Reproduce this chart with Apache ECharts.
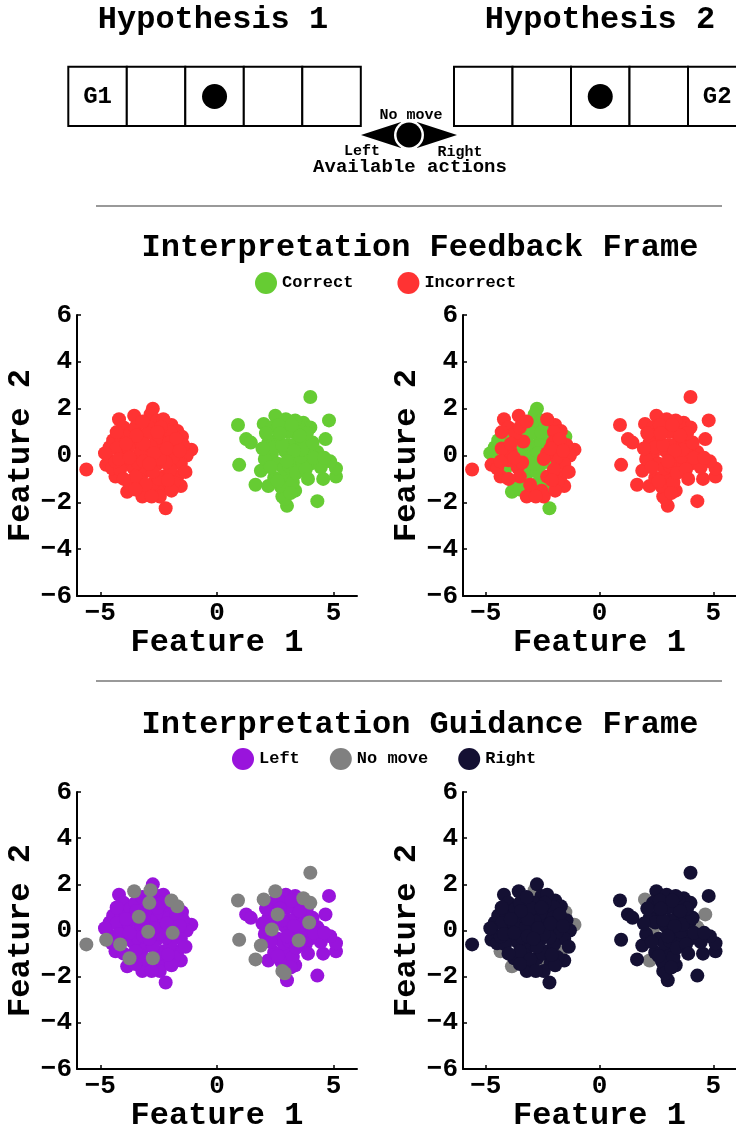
<!DOCTYPE html>
<html>
<head>
<meta charset="utf-8">
<title>Interpretation frames</title>
<script src="https://cdn.jsdelivr.net/npm/echarts@6/dist/echarts.min.js"></script>
<style>
  html, body { margin: 0; padding: 0; background: #fff; }
  #chart { width: 736px; height: 1133px; }
</style>
</head>
<body>
<div id="chart"></div>
<script>
const FONT = '"Liberation Mono", "Courier New", monospace'

// [feature 1, feature 2, feedback H1, feedback H2, action H1, action H2]
// C = correct, I = incorrect, L = left, N = no move, R = right
const leftCluster = [
  [-2.75, 2.0, 'I', 'C', 'L', 'R'], [-2.85, 1.75, 'I', 'C', 'N', 'N'], [-3.55, 1.7, 'I', 'I', 'N', 'R'],
  [-4.2, 1.55, 'I', 'I', 'L', 'R'], [-4.0, 1.2, 'I', 'I', 'L', 'R'], [-2.55, 1.5, 'I', 'C', 'L', 'R'],
  [-2.9, 1.2, 'I', 'C', 'N', 'R'], [-1.95, 1.3, 'I', 'I', 'N', 'R'], [-1.7, 1.05, 'I', 'I', 'N', 'R'],
  [-1.5, 0.8, 'I', 'C', 'L', 'N'], [-1.1, 0.25, 'I', 'I', 'L', 'N'], [-1.3, 0.0, 'I', 'I', 'L', 'R'],
  [-1.55, -0.35, 'I', 'I', 'L', 'R'], [-1.7, -0.9, 'I', 'I', 'L', 'N'], [-1.55, -1.3, 'I', 'I', 'L', 'R'],
  [-2.15, -1.4, 'I', 'C', 'L', 'R'], [-2.2, -2.25, 'I', 'C', 'L', 'R'], [-2.55, -1.5, 'I', 'I', 'L', 'N'],
  [-3.0, -1.55, 'I', 'I', 'L', 'N'], [-3.2, -1.75, 'I', 'I', 'L', 'R'], [-3.85, -1.55, 'I', 'C', 'L', 'N'],
  [-3.75, -1.2, 'I', 'C', 'N', 'R'], [-4.35, -0.9, 'I', 'I', 'L', 'N'], [-4.75, -0.4, 'I', 'I', 'N', 'R'],
  [-5.6, -0.6, 'I', 'I', 'N', 'R'], [-4.6, 0.35, 'I', 'C', 'L', 'R'], [-4.45, 0.65, 'I', 'C', 'L', 'R'],
  [-4.6, -0.2, 'I', 'C', 'L', 'R'], [-4.1, 0.7, 'I', 'C', 'L', 'R'], [-3.6, 0.55, 'I', 'C', 'L', 'R'],
  [-3.35, 0.6, 'I', 'I', 'N', 'R'], [-2.95, -0.05, 'I', 'C', 'N', 'R'], [-2.75, -1.2, 'I', 'C', 'N', 'R'],
  [-1.9, -0.1, 'I', 'I', 'N', 'R'], [-2.2, 0.9, 'I', 'C', 'L', 'R'], [-2.45, 0.4, 'I', 'C', 'L', 'R'],
  [-3.3, 0.1, 'I', 'C', 'L', 'R'], [-3.9, 0.15, 'I', 'I', 'L', 'R'], [-3.6, -0.5, 'I', 'I', 'L', 'R'],
  [-3.1, -0.7, 'I', 'C', 'L', 'R'], [-2.6, -0.4, 'I', 'C', 'L', 'R'], [-2.3, -0.9, 'I', 'I', 'L', 'R'],
  [-2.0, -0.6, 'I', 'I', 'L', 'R'], [-1.8, 0.35, 'I', 'I', 'L', 'N'], [-2.6, 0.75, 'I', 'C', 'L', 'R'],
  [-3.3, -1.05, 'I', 'C', 'L', 'R'], [-4.0, -0.2, 'I', 'I', 'L', 'R'], [-2.85, 0.4, 'I', 'C', 'L', 'R'],
  [-3.0, 0.95, 'I', 'C', 'L', 'R'], [-2.3, 0.1, 'I', 'I', 'L', 'R'], [-3.5, -0.9, 'I', 'I', 'L', 'R'],
  [-2.5, -1.0, 'I', 'C', 'L', 'R'], [-4.3, 0.3, 'I', 'I', 'L', 'R'], [-2.0, 1.0, 'I', 'I', 'L', 'R'],
  [-2.75, -0.7, 'I', 'C', 'L', 'R'], [-3.7, 0.95, 'I', 'I', 'L', 'R'], [-1.45, 0.45, 'I', 'I', 'L', 'R'],
  [-2.45, -1.75, 'I', 'I', 'L', 'R'], [-3.15, 0.5, 'I', 'C', 'L', 'R'], [-3.8, 0.35, 'I', 'C', 'L', 'R'],
  [-2.3, 1.55, 'I', 'I', 'L', 'R'], [-1.85, -1.15, 'I', 'I', 'L', 'R'], [-4.5, -0.55, 'I', 'I', 'L', 'R'],
  [-4.15, -0.6, 'I', 'C', 'N', 'R'], [-3.4, -0.3, 'I', 'I', 'L', 'R'], [-2.2, -0.3, 'I', 'C', 'L', 'R'],
  [-3.5, 1.2, 'I', 'I', 'L', 'R'], [-2.05, 0.55, 'I', 'I', 'L', 'R'], [-3.05, -1.25, 'I', 'I', 'L', 'R'],
  [-4.35, -0.25, 'I', 'I', 'L', 'R'], [-4.3, 1.0, 'I', 'I', 'L', 'R'], [-3.2, 1.45, 'I', 'I', 'L', 'R'],
  [-2.4, 1.2, 'I', 'C', 'L', 'R'], [-1.75, 0.7, 'I', 'I', 'L', 'R'], [-1.35, -0.7, 'I', 'I', 'L', 'R'],
  [-1.95, -1.5, 'I', 'I', 'L', 'R'], [-2.8, -1.75, 'I', 'I', 'L', 'R'], [-3.5, -1.45, 'I', 'C', 'L', 'R'],
  [-4.0, -1.0, 'I', 'I', 'L', 'R'], [-4.8, 0.1, 'I', 'C', 'L', 'R'], [-4.2, -0.15, 'I', 'C', 'L', 'R'],
  [-3.15, -0.25, 'I', 'C', 'L', 'R'], [-2.45, -0.15, 'I', 'I', 'L', 'R'], [-2.7, 0.1, 'I', 'C', 'L', 'R'],
  [-3.75, -0.1, 'I', 'I', 'L', 'R'], [-3.45, 0.85, 'I', 'C', 'L', 'R'], [-2.15, 0.3, 'I', 'I', 'L', 'R'],
  [-2.55, 1.0, 'I', 'C', 'L', 'R'], [-1.6, 0.2, 'I', 'I', 'L', 'R'], [-2.9, -0.35, 'I', 'C', 'L', 'R'],
  [-3.9, 0.5, 'I', 'I', 'L', 'R'], [-2.1, -1.05, 'I', 'I', 'L', 'R']
]
const rightCluster = [
  [4.0, 2.5, 'C', 'I', 'N', 'R'], [4.8, 1.5, 'C', 'I', 'L', 'R'], [4.65, 0.7, 'C', 'I', 'L', 'N'],
  [0.9, 1.3, 'C', 'I', 'N', 'R'], [1.25, 0.7, 'C', 'I', 'L', 'R'], [1.45, 0.55, 'C', 'I', 'L', 'R'],
  [0.95, -0.4, 'C', 'I', 'N', 'R'], [1.65, -1.25, 'C', 'I', 'N', 'R'], [1.88, -0.65, 'C', 'I', 'N', 'R'],
  [2.2, -1.3, 'C', 'I', 'L', 'N'], [4.3, -1.95, 'C', 'I', 'L', 'R'], [3.0, -2.15, 'C', 'I', 'L', 'R'],
  [2.8, -1.75, 'C', 'I', 'N', 'R'], [3.35, -1.5, 'C', 'I', 'L', 'R'], [4.55, -1.0, 'C', 'I', 'L', 'R'],
  [5.1, -0.9, 'C', 'I', 'L', 'R'], [5.1, -0.55, 'C', 'I', 'L', 'R'], [4.85, -0.25, 'C', 'I', 'L', 'R'],
  [4.3, 0.15, 'C', 'I', 'L', 'N'], [2.5, 1.7, 'C', 'I', 'N', 'R'], [2.0, 1.35, 'C', 'I', 'N', 'N'],
  [3.7, 1.4, 'C', 'I', 'N', 'R'], [4.0, 1.2, 'C', 'I', 'N', 'R'], [2.95, 1.55, 'C', 'I', 'L', 'R'],
  [3.5, -0.43, 'C', 'I', 'N', 'R'], [2.95, -0.9, 'C', 'I', 'L', 'R'], [2.9, 0.2, 'C', 'I', 'L', 'R'],
  [3.95, 0.35, 'C', 'I', 'N', 'R'], [3.9, 0.0, 'C', 'I', 'L', 'N'], [2.6, 0.7, 'C', 'I', 'N', 'R'],
  [2.35, 1.2, 'C', 'I', 'L', 'R'], [2.2, 0.55, 'C', 'I', 'L', 'R'], [2.35, 0.05, 'C', 'I', 'N', 'N'],
  [3.3, 1.0, 'C', 'I', 'L', 'R'], [3.4, 0.5, 'C', 'I', 'L', 'R'], [3.2, -0.1, 'C', 'I', 'L', 'R'],
  [2.6, -0.35, 'C', 'I', 'L', 'R'], [3.7, 0.75, 'C', 'I', 'L', 'R'], [3.0, 1.0, 'C', 'I', 'L', 'R'],
  [2.75, -1.35, 'C', 'I', 'L', 'R'], [3.25, -1.15, 'C', 'I', 'L', 'R'], [2.45, -0.95, 'C', 'I', 'L', 'R'],
  [4.0, -0.35, 'C', 'I', 'L', 'R'], [3.6, -0.05, 'C', 'I', 'L', 'R'], [2.65, 1.3, 'C', 'I', 'L', 'R'],
  [3.5, 1.25, 'C', 'I', 'L', 'R'], [2.05, -0.15, 'C', 'I', 'L', 'R'], [3.1, 0.45, 'C', 'I', 'L', 'R'],
  [2.85, -0.55, 'C', 'I', 'L', 'R'], [4.45, -0.5, 'C', 'I', 'L', 'R'], [2.9, -1.85, 'C', 'I', 'N', 'R'],
  [3.65, 0.25, 'C', 'I', 'L', 'R'], [2.1, 0.95, 'C', 'I', 'L', 'R'], [3.1, -0.45, 'C', 'I', 'L', 'R'],
  [4.1, 0.55, 'C', 'I', 'L', 'R'], [3.35, 1.5, 'C', 'I', 'L', 'R'], [3.85, 0.95, 'C', 'I', 'L', 'R'],
  [2.45, 0.35, 'C', 'I', 'L', 'R'], [2.8, 0.45, 'C', 'I', 'L', 'R'], [3.3, 0.2, 'C', 'I', 'L', 'R'],
  [3.0, -0.25, 'C', 'I', 'L', 'R'], [3.4, -0.75, 'C', 'I', 'L', 'R'], [2.6, -1.1, 'C', 'I', 'L', 'R'],
  [3.15, -1.6, 'C', 'I', 'L', 'R'], [4.15, -0.1, 'C', 'I', 'L', 'R'], [3.8, -0.6, 'C', 'I', 'L', 'R'],
  [2.3, -0.5, 'C', 'I', 'L', 'R'], [1.95, 0.3, 'C', 'I', 'L', 'R'], [3.55, 0.85, 'C', 'I', 'L', 'R'],
  [4.6, -0.1, 'C', 'I', 'L', 'R'], [3.9, -1.0, 'C', 'I', 'L', 'R'], [2.7, 0.95, 'C', 'I', 'L', 'R'],
  [3.2, 1.3, 'C', 'I', 'L', 'R']
]

const xTicks = [-5, 0, 5]
const feedbackNames = { C: 'Correct', I: 'Incorrect' }
const actionNames = { L: 'Left', N: 'No move', R: 'Right' }
const colors = {
  'Correct': '#66cc33',
  'Incorrect': '#ff3333',
  'Left': '#9914dc',
  'No move': '#808080',
  'Right': '#141033'
}

// which label column each panel shows, and the order the groups are painted
const panels = [
  { col: 2, order: ['I', 'C'], names: feedbackNames },
  { col: 3, order: ['C', 'I'], names: feedbackNames },
  { col: 4, order: ['L', 'N'], names: actionNames },
  { col: 5, order: ['N', 'R'], names: actionNames }
]

const grids = [
  { left: 77, top: 315, width: 280, height: 281 },
  { left: 463, top: 315, width: 281, height: 281 },
  { left: 77, top: 792, width: 280, height: 281 },
  { left: 463, top: 792, width: 281, height: 281 }
]

const allPoints = leftCluster.concat(rightCluster)
const minus = v => String(v).replace('-', '\u2212')
const bold = size => ({ fontFamily: FONT, fontWeight: 'bold', fontSize: size, color: '#000' })

const xAxes = grids.map((g, i) => ({
  gridIndex: i,
  type: 'value',
  min: -6,
  max: 6,
  axisLine: { onZero: false, lineStyle: { color: '#000', width: 2 } },
  axisTick: { inside: true, length: 4, customValues: xTicks, lineStyle: { color: '#000', width: 1.5 } },
  axisLabel: Object.assign(bold(26), { customValues: xTicks, margin: 4, formatter: minus }),
  splitLine: { show: false },
  name: 'Feature 1',
  nameLocation: 'middle',
  nameGap: 26,
  nameTextStyle: bold(32)
}))

const yAxes = grids.map((g, i) => ({
  gridIndex: i,
  type: 'value',
  min: -6,
  max: 6,
  interval: 2,
  axisLine: { show: true, onZero: false, lineStyle: { color: '#000', width: 2 } },
  axisTick: { show: true, inside: true, length: 4, lineStyle: { color: '#000', width: 1.5 } },
  axisLabel: Object.assign(bold(26), { margin: 5, formatter: minus }),
  splitLine: { show: false },
  name: 'Feature 2',
  nameLocation: 'middle',
  nameRotate: 90,
  nameGap: 35,
  nameTextStyle: bold(32)
}))

const series = []
panels.forEach((p, i) => {
  p.order.forEach(code => {
    const name = p.names[code]
    series.push({
      name: name,
      type: 'scatter',
      xAxisIndex: i,
      yAxisIndex: i,
      symbolSize: 14,
      itemStyle: { color: colors[name], opacity: 1 },
      data: allPoints.filter(r => r[p.col] === code).map(r => [r[0], r[1]])
    })
  })
})

// top diagram: two boards, the available actions, separators and titles
const graphic = []
const text = (str, x, y, size) => graphic.push({
  type: 'text',
  style: {
    text: str, x: x, y: y, fill: '#000',
    font: 'bold ' + size + 'px ' + FONT,
    textAlign: 'center', textVerticalAlign: 'middle'
  }
})
const board = (x0, ballCell, goalCell, goal) => {
  const w = 58.5
  for (let k = 0; k < 5; k++) {
    graphic.push({
      type: 'rect',
      shape: { x: x0 + k * w, y: 66.7, width: w, height: 59.3 },
      style: { fill: '#fff', stroke: '#000', lineWidth: 2 }
    })
  }
  graphic.push({
    type: 'circle',
    shape: { cx: x0 + (ballCell + 0.5) * w, cy: 96.5, r: 12.5 },
    style: { fill: '#000' }
  })
  text(goal, x0 + (goalCell + 0.5) * w, 97, 24)
}

text('Hypothesis 1', 213, 20, 32)
text('Hypothesis 2', 600, 20, 32)
board(68.3, 2, 0, 'G1')
board(454, 2, 4, 'G2')

graphic.push({ type: 'polygon', shape: { points: [[361, 135], [401, 122], [401, 148]] }, style: { fill: '#000' } })
graphic.push({ type: 'polygon', shape: { points: [[457, 135], [417, 122], [417, 148]] }, style: { fill: '#000' } })
graphic.push({ type: 'circle', shape: { cx: 409, cy: 135, r: 15 }, style: { fill: '#fff' } })
graphic.push({ type: 'circle', shape: { cx: 409, cy: 135, r: 12.5 }, style: { fill: '#000' } })
text('No move', 411, 115, 15)
text('Left', 362, 151, 15)
text('Right', 460, 152, 15)
text('Available actions', 410, 167, 19)

graphic.push({ type: 'line', shape: { x1: 96, y1: 206, x2: 722, y2: 206 }, style: { stroke: '#777', lineWidth: 1.5 } })
graphic.push({ type: 'line', shape: { x1: 96, y1: 681, x2: 722, y2: 681 }, style: { stroke: '#777', lineWidth: 1.5 } })
text('Interpretation Feedback Frame', 420, 248, 32)
text('Interpretation Guidance Frame', 420, 725, 32)

const legendBase = {
  icon: 'circle',
  itemWidth: 22,
  itemHeight: 22,
  padding: 0,
  selectedMode: false,
  textStyle: bold(17)
}

const chart = echarts.init(document.getElementById('chart'))
chart.setOption({
  animation: false,
  backgroundColor: '#fff',
  grid: grids,
  xAxis: xAxes,
  yAxis: yAxes,
  legend: [
    Object.assign({ data: ['Correct', 'Incorrect'], left: 255, top: 272, itemGap: 44 }, legendBase),
    Object.assign({ data: ['Left', 'No move', 'Right'], left: 232, top: 748, itemGap: 30 }, legendBase)
  ],
  graphic: graphic,
  series: series
})
</script>
</body>
</html>
